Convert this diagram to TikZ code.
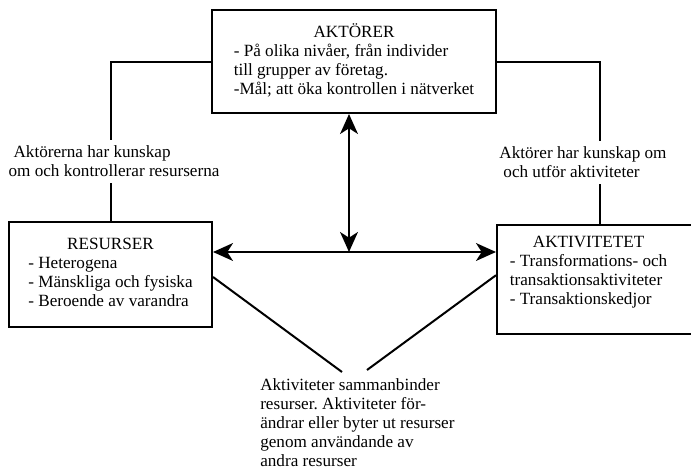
\documentclass[tikz,border=0pt]{standalone}
\usepackage{fontspec}
\setmainfont{Liberation Serif}
\usetikzlibrary{arrows.meta}
\frenchspacing

\begin{document}
\begin{tikzpicture}[x=0.7pt, y=-0.7pt,
		every node/.style={font=\fontsize{12}{13.3}\selectfont},
		box/.style={draw, line width=1.4pt, inner sep=0pt},
		lbl/.style={align=left, inner xsep=0pt, inner ysep=4pt},
		conn/.style={line width=1.4pt},
		dbl/.style={line width=1.4pt, {Stealth[length=14pt,width=12.5pt,inset=4pt]}-{Stealth[length=14pt,width=12.5pt,inset=4pt]}}]
			\useasboundingbox (0,0) rectangle (691,470);
			\clip (0,0) rectangle (691,470);
			\node[box, minimum width=198.8pt, minimum height=72.1pt] (aktorer) at (354,61.5) {\begin{tabular}{@{}l@{}}\multicolumn{1}{@{}c@{}}{AKTÖRER}\\- På olika nivåer, från individer\\till grupper av företag.\\-Mål; att öka kontrollen i nätverket\end{tabular}};
			\node[box, minimum width=142.1pt, minimum height=73.5pt] (resurser) at (110.5,274.5) {\begin{tabular}{@{}l@{}}\multicolumn{1}{@{}c@{}}{RESURSER}\\- Heterogena\\- Mänskliga och fysiska\\- Beroende av varandra\end{tabular}};
			\node[box, minimum width=144.2pt, minimum height=76.3pt] (aktivitetet) at (600,279.5) {\begin{tabular}{@{}l@{}}\multicolumn{1}{@{}c@{}}{AKTIVITETET}\\- Transformations- och\\transaktionsaktiviteter\\- Transaktionskedjor\\[10pt]\end{tabular}\hspace*{16pt}};
			\node[lbl, anchor=north] (lblres) at (114,140) {\hspace*{3.5pt}Aktörerna har kunskap\\om och kontrollerar resurserna};
			\node[lbl, anchor=north] (lbakt) at (583,141) {Aktörer har kunskap om\\\hspace*{2.8pt}och utför aktiviteter};
			\node[lbl, anchor=north west] (lblact) at (260,373) {Aktiviteter sammanbinder\\resurser. Aktiviteter för-\\ändrar eller byter ut resurser\\genom användande av\\andra resurser};
			\coordinate (hub) at (349,252);
			\coordinate (endres) at (342,372);
			\coordinate (endakt) at (367,370);
			\draw[conn] (aktorer.west) -| (lblres.north -| resurser.north);
			\draw[conn] (lblres.south -| resurser.north) -- (resurser.north);
			\draw[conn] (aktorer.east) -| (lbakt.north -| aktivitetet.north);
			\draw[conn] (lbakt.south -| aktivitetet.north) -- (aktivitetet.north);
			\draw[dbl] (hub |- aktorer.south) -- (hub);
			\draw[dbl] (resurser.east |- hub) -- (aktivitetet.west |- hub);
			\draw[conn] ([yshift=-1.75pt]resurser.east) -- (endres);
			\draw[conn] ([yshift=3pt]aktivitetet.west) -- (endakt);
		\end{tikzpicture}
\end{document}
